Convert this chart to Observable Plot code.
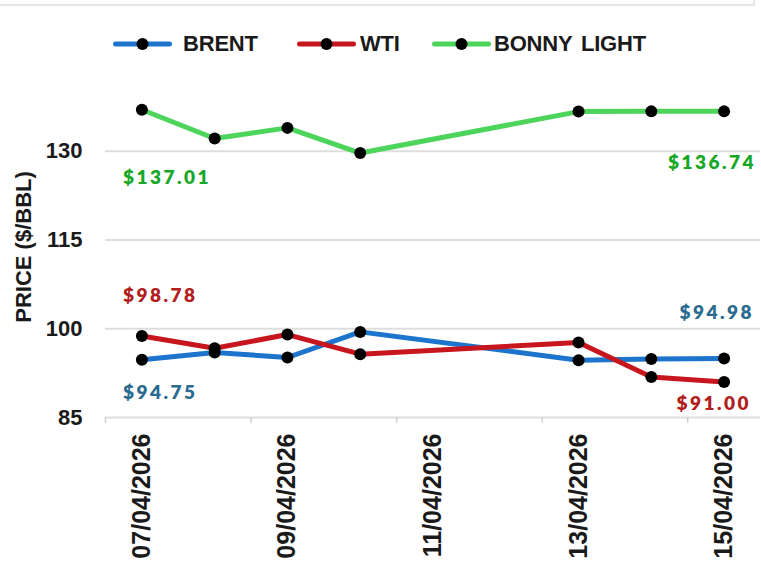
<!DOCTYPE html>
<html>
<head>
<meta charset="utf-8">
<script src="https://cdn.jsdelivr.net/npm/d3@7"></script>
<script src="https://cdn.jsdelivr.net/npm/@observablehq/plot@0.6"></script>
<style>
  html, body { margin: 0; padding: 0; background: #fff; }
  body { width: 761px; height: 568px; overflow: hidden; position: relative; font-family: "Liberation Sans", Arial, sans-serif; }
  #frame { position: absolute; left: -4px; top: -4px; width: 757px; height: 8px; border-right: 2px solid #e6e6e6; border-bottom: 2px solid #e6e6e6; }
  #legend { height: 60px; position: relative; }
  .item { position: absolute; top: 32px; display: flex; align-items: center; height: 24px; }
  .item svg { display: block; }
  .item span { font-size: 22px; font-weight: 700; color: #1a1a1a; line-height: 24px; letter-spacing: -0.2px; word-spacing: 3px; white-space: nowrap; }
</style>
</head>
<body>
<div id="frame"></div>
<div id="legend"></div>
<div id="chart"></div>
<script>
// ---- data ----
const dates = ["2026-04-07", "2026-04-08", "2026-04-09", "2026-04-10", "2026-04-13", "2026-04-14", "2026-04-15"];
const seriesNames = ["BRENT", "WTI", "BONNY LIGHT"];
const brent = [94.75, 96.0, 95.14, 99.47, 94.68, 94.90, 94.98];
const wti = [98.78, 96.7, 99.02, 95.70, 97.67, 91.86, 91.00];
const bonnyLight = [137.01, 132.15, 133.95, 129.70, 136.70, 136.74, 136.74];
const yTicks = [85, 100, 115, 130];
const xTickLabels = ["07/04/2026", "09/04/2026", "11/04/2026", "13/04/2026", "15/04/2026"];
const yTitle = "PRICE ($/BBL)";

// ---- styles ----
const lineColor = {"BRENT": "#1c74cd", "WTI": "#c8161e", "BONNY LIGHT": "#4dd45a"};
const labelColor = {"BRENT": "#2a6b8f", "WTI": "#b21e1e", "BONNY LIGHT": "#17a827"};
const legendLayout = {"BRENT": {left: 113, gap: 11}, "WTI": {left: 297, gap: 4}, "BONNY LIGHT": {left: 432, gap: 3}};

const parseDay = d3.utcParse("%Y-%m-%d");
const parseLabel = d3.utcParse("%d/%m/%Y");
const fmtLabel = d3.utcFormat("%d/%m/%Y");
const valuesBy = {"BRENT": brent, "WTI": wti, "BONNY LIGHT": bonnyLight};
const rows = seriesNames.flatMap(s => dates.map((d, i) => ({series: s, date: parseDay(d), value: valuesBy[s][i]})));

const firstDate = parseDay(dates[0]);
const lastDate = parseDay(dates[dates.length - 1]);
const xDomain = [d3.utcHour.offset(firstDate, -12), d3.utcHour.offset(lastDate, 12)];
const tickLabelDates = xTickLabels.map(parseLabel);
const tickMarkDates = tickLabelDates.map(d => d3.utcHour.offset(d, -12));

// end labels (first / last value of each series)
const labelPlacement = [
  {series: "BONNY LIGHT", end: "first", dx: -19, dy: 68, anchor: "start"},
  {series: "WTI", end: "first", dx: -19, dy: -40, anchor: "start"},
  {series: "BRENT", end: "first", dx: -19, dy: 33, anchor: "start"},
  {series: "BONNY LIGHT", end: "last", dx: 32, dy: 52, anchor: "end"},
  {series: "BRENT", end: "last", dx: 30, dy: -46, anchor: "end"},
  {series: "WTI", end: "last", dx: 27, dy: 22, anchor: "end"}
];
const fmtPrice = d3.format("$.2f");
const labelMarks = labelPlacement.map(p => {
  const vals = valuesBy[p.series];
  const idx = p.end === "first" ? 0 : vals.length - 1;
  const row = {date: parseDay(dates[idx]), value: vals[idx], series: p.series};
  return Plot.text([row], {
    x: "date", y: "value", text: d => fmtPrice(d.value),
    dx: p.dx, dy: p.dy, textAnchor: p.anchor,
    fill: labelColor[p.series], fontSize: 19, fontWeight: 800,
    fontFamily: "Lato, 'Open Sans', sans-serif"
  });
});

// ---- legend ----
const legend = document.getElementById("legend");
seriesNames.forEach(s => {
  const item = document.createElement("div");
  item.className = "item";
  item.style.left = legendLayout[s].left + "px";
  item.innerHTML = `<svg width="59" height="14" style="margin-right:${legendLayout[s].gap}px"><line x1="2.5" x2="56.5" y1="7" y2="7" stroke="${lineColor[s]}" stroke-width="5" stroke-linecap="round"/><circle cx="29.5" cy="7" r="6" fill="#000"/></svg><span>${s}</span>`;
  legend.appendChild(item);
});

// ---- chart ----
const chart = Plot.plot({
  width: 761,
  height: 508,
  marginLeft: 105,
  marginRight: 1,
  marginTop: 2,
  marginBottom: 151,
  style: {fontFamily: "'Liberation Sans', Arial, sans-serif", fontWeight: "bold", color: "#1a1a1a", background: "#fff"},
  x: {type: "utc", domain: xDomain},
  y: {domain: [85, 145]},
  marks: [
    Plot.ruleY(yTicks, {stroke: "#dedede", strokeWidth: 2}),
    Plot.axisY({ticks: yTicks, tickSize: 0, tickPadding: 23, fontSize: 22, label: null}),
    Plot.axisX({ticks: tickMarkDates, tickSize: 6, tickFormat: () => "", stroke: "#cfcfcf", strokeWidth: 1.5, label: null}),
    Plot.axisX({ticks: tickLabelDates, tickSize: 0, tickPadding: 16, tickRotate: -90, tickFormat: fmtLabel, fontSize: 25, label: null}),
    Plot.text([yTitle], {frameAnchor: "left", textAnchor: "middle", rotate: -90, dx: -82, dy: 7, fontSize: 22, fill: "#1a1a1a"}),
    Plot.line(rows, {x: "date", y: "value", z: "series", stroke: d => lineColor[d.series], strokeWidth: 5, curve: "linear"}),
    Plot.dot(rows, {x: "date", y: "value", r: 6, fill: "#000", stroke: "none"}),
    ...labelMarks
  ]
});
document.getElementById("chart").appendChild(chart);
d3.select(chart).selectAll("text")
  .filter(function() { return /^\$\d/.test(this.textContent); })
  .style("letter-spacing", "2.5px");
</script>
</body>
</html>
